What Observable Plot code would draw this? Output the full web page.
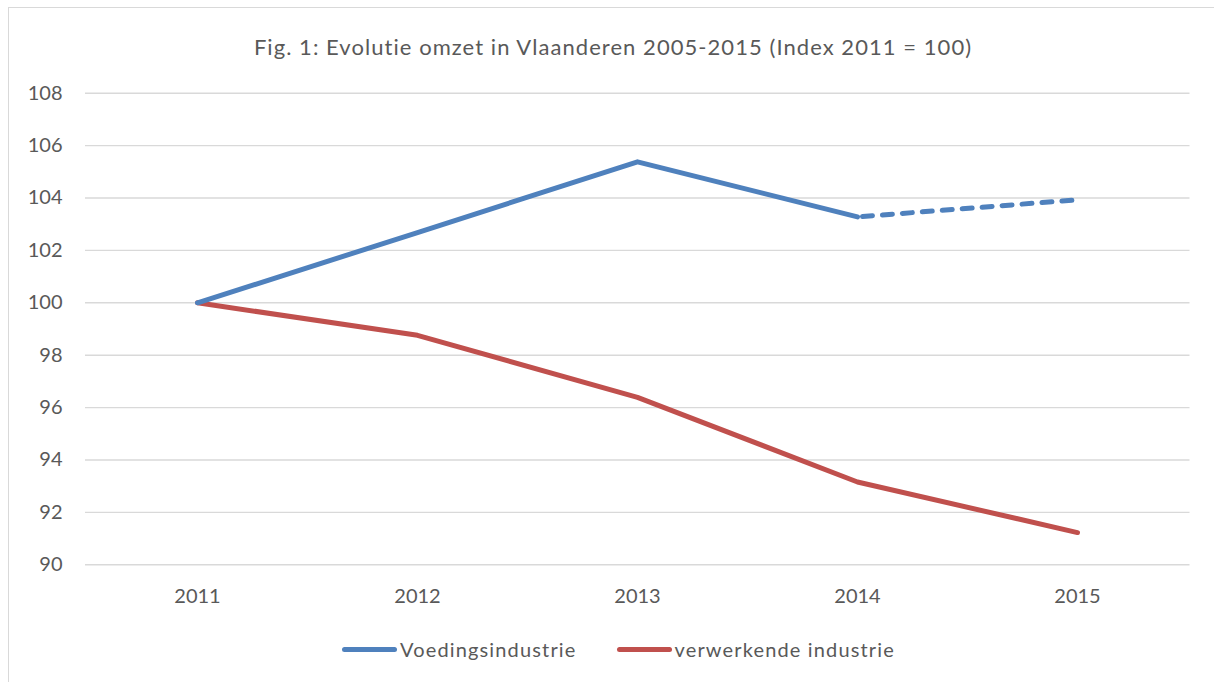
<!DOCTYPE html>
<html>
<head>
<meta charset="utf-8">
<script src="https://cdn.jsdelivr.net/npm/d3@7"></script>
<script src="https://cdn.jsdelivr.net/npm/@observablehq/plot@0.6"></script>
<style>
  html, body { margin: 0; padding: 0; background: #fff; }
  #wrap { position: relative; width: 1214px; height: 682px; overflow: hidden; background: #fff; font-family: Lato, "Open Sans", sans-serif; color: #595959; }
  #frame { position: absolute; left: 8px; top: 7px; width: 1300px; height: 800px; border: 1.5px solid #d9d9d9; box-sizing: border-box; }
  #title { position: absolute; left: 0; top: 32px; width: 1214px; padding-left: 12px; box-sizing: border-box; text-align: center; font-size: 22px; letter-spacing: 1.05px; line-height: 30px; }
  #chart { position: absolute; left: 0; top: 0; }
  #legend { position: absolute; top: 636px; left: 342px; display: flex; align-items: center; font-size: 20px; letter-spacing: 1.15px; line-height: 26px; }
  .sw { display: inline-block; width: 55px; height: 5px; border-radius: 3px; margin-right: 3px; }
  .item { display: flex; align-items: center; margin-right: 40px; }
</style>
</head>
<body>
<div id="wrap">
  <div id="frame"></div>
  <div id="chart"></div>
  <div id="title"></div>
  <div id="legend"></div>
</div>
<script>
const title = "Fig. 1: Evolutie omzet in Vlaanderen 2005-2015 (Index 2011 = 100)";
const years = ["2011", "2012", "2013", "2014", "2015"];
const seriesNames = ["Voedingsindustrie", "verwerkende industrie"];
const voeding = [100, 102.68, 105.38, 103.28, 103.93];
const verwerkende = [100, 98.76, 96.39, 93.16, 91.23];
const yTicks = [90, 92, 94, 96, 98, 100, 102, 104, 106, 108];
const colors = ["#4f81bd", "#c0504d"];

const voedingRows = years.map((y, i) => ({year: y, value: voeding[i]}));
const verwRows = years.map((y, i) => ({year: y, value: verwerkende[i]}));
const voedingSolid = voedingRows.slice(0, 4);
const voedingDashed = voedingRows.slice(3, 5);

document.getElementById("title").textContent = title;

const plot = Plot.plot({
  width: 1214,
  height: 620,
  marginLeft: 85,
  marginRight: 24.5,
  marginTop: 92.7,
  marginBottom: 55.7,
  style: { fontFamily: "Lato, 'Open Sans', sans-serif", color: "#595959", background: "transparent" },
  x: { type: "point", domain: years, padding: 0.5, align: 0.5 },
  y: { domain: [90, 108] },
  marks: [
    Plot.ruleY(yTicks, { stroke: "#d9d9d9", strokeWidth: 1.4 }),
    Plot.axisY({ ticks: yTicks, tickSize: 0, tickPadding: 23, fontSize: 20, label: null, fill: "#595959" }),
    Plot.axisX({ tickSize: 0, tickPadding: 24, fontSize: 20, label: null, fill: "#595959" }),
    Plot.line(verwRows, { x: "year", y: "value", stroke: colors[1], strokeWidth: 5, strokeLinecap: "round", strokeLinejoin: "round" }),
    Plot.line(voedingSolid, { x: "year", y: "value", stroke: colors[0], strokeWidth: 5, strokeLinecap: "round", strokeLinejoin: "round" }),
    Plot.line(voedingDashed, { x: "year", y: "value", stroke: colors[0], strokeWidth: 5, strokeLinecap: "round", strokeDasharray: "10 10", strokeDashoffset: -5 })
  ]
});
document.getElementById("chart").appendChild(plot);

const legend = document.getElementById("legend");
seriesNames.forEach((name, i) => {
  const item = document.createElement("span");
  item.className = "item";
  const sw = document.createElement("span");
  sw.className = "sw";
  sw.style.background = colors[i];
  const t = document.createElement("span");
  t.textContent = name;
  item.appendChild(sw);
  item.appendChild(t);
  legend.appendChild(item);
});
</script>
</body>
</html>
